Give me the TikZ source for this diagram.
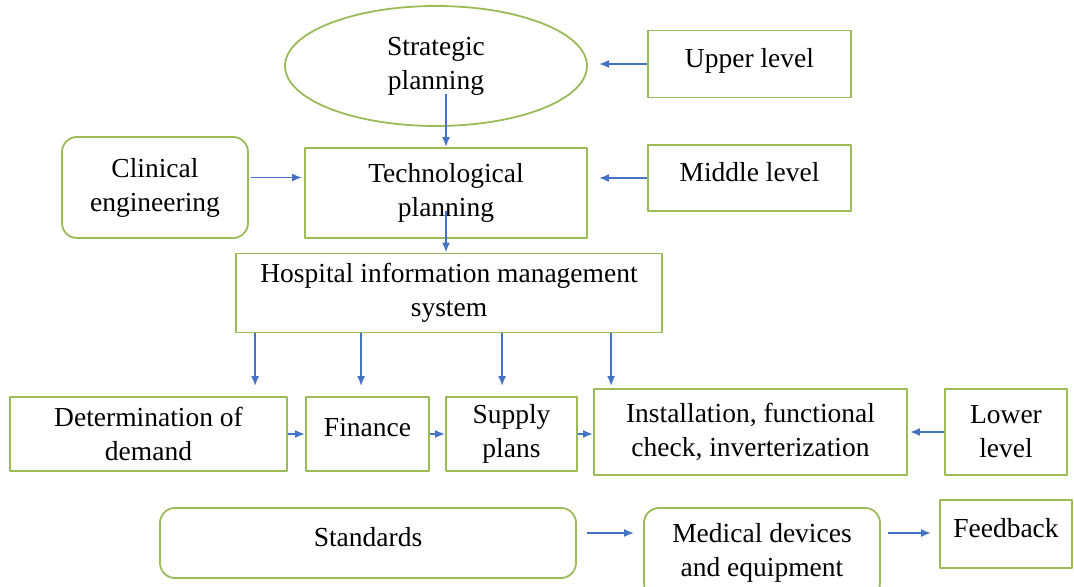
\documentclass[tikz,border=0pt]{standalone}
\usepackage{fontspec}
\setmainfont{Liberation Serif}
\usetikzlibrary{shapes.geometric,arrows.meta}
\definecolor{boxgreen}{RGB}{155,187,89}
\definecolor{arrowblue}{RGB}{68,114,196}
\begin{document}
\begin{tikzpicture}[>={Latex[length=10bp,width=8bp]},line join=bevel,
    box/.style={draw=boxgreen,line width=1.8bp,rectangle,align=center,inner sep=0pt,
                font=\fontsize{27.5bp}{34bp}\selectfont},
    rbox/.style={box,rounded corners=15bp},
    oneline/.style={text depth=13bp},
    arr/.style={draw=arrowblue,line width=1.8bp,->},
    ]
    \useasboundingbox (0bp,0bp) rectangle (1074bp,587bp);
    %% top
    \node (sp) at (436bp,521bp) [box,ellipse,minimum width=302bp,minimum height=120bp] {Strategic\\planning};
    \node (up) at (749.5bp,523bp) [box,oneline,minimum width=203bp,minimum height=67bp] {Upper level};
    \node (tp) at (446bp,394bp) [box,minimum width=282bp,minimum height=90bp] {Technological\\planning};
    \node (ce) at (155bp,399.5bp) [rbox,minimum width=186bp,minimum height=101bp] {Clinical\\engineering};
    \node (ml) at (749.5bp,409bp) [box,oneline,minimum width=203bp,minimum height=66bp] {Middle level};
    \node (hims) at (449bp,294bp) [box,minimum width=426bp,minimum height=79bp] {Hospital information management\\system};
    %% middle row
    \node (det) at (148.5bp,153bp) [box,minimum width=277bp,minimum height=74bp] {Determination of\\demand};
    \node (fin) at (367.5bp,153bp) [box,oneline,minimum width=123bp,minimum height=74bp] {Finance};
    \node (sup) at (511.5bp,153bp) [box,minimum width=131bp,minimum height=74bp] {Supply\\plans};
    \node (ins) at (750.5bp,155bp) [box,minimum width=313bp,minimum height=86bp] {Installation, functional\\check, inverterization};
    \node (low) at (1006bp,155bp) [box,minimum width=122bp,minimum height=86bp] {Lower\\level};
    %% bottom row
    \node (std) at (368bp,44bp) [rbox,oneline,minimum width=416bp,minimum height=70bp] {Standards};
    \node (med) at (762bp,34bp) [rbox,minimum width=236bp,minimum height=90bp] {Medical devices\\and equipment};
    \node (fb) at (1006bp,53bp) [box,oneline,minimum width=132bp,minimum height=68bp] {Feedback};
    %
    \draw [arr,shorten >=11bp] (up.west) -- (up.west -| sp.east);
    \draw [arr,shorten >=11bp] (ml.west) -- (ml.west -| tp.east);
    \draw [arr,shorten <=2bp,shorten >=2bp] ([yshift=10bp]ce.east) -- ([yshift=10bp]ce.east -| tp.west);
    \draw [arr,shorten <=-33bp] (tp.north |- sp.south) -- (tp.north);
    \draw [arr,shorten <=-28bp] (tp.south) -- (tp.south |- hims.north);
    \foreach \dx/\tgt/\gap in {20/det/10,126/fin/10,267/sup/10,376/ins/2}
        \draw [arr,shorten >=\gap bp] ([xshift=\dx bp]hims.south west) -- ([xshift=\dx bp]hims.south west |- \tgt.north);
    \draw [arr] (det) -- (fin);
    \draw [arr] (fin) -- (sup);
    \draw [arr] (sup.east) -- (sup.east -| ins.west);
    \draw [arr,shorten >=2bp] (low.west) -- (low.west -| ins.east);
    \draw [arr,shorten <=10bp,shorten >=9bp] ([yshift=10bp]std.east) -- ([yshift=10bp]std.east -| med.west);
    \draw [arr,shorten <=7bp,shorten >=8bp] ([yshift=20bp]med.east) -- ([yshift=20bp]med.east -| fb.west);
    %
\end{tikzpicture}
\end{document}
